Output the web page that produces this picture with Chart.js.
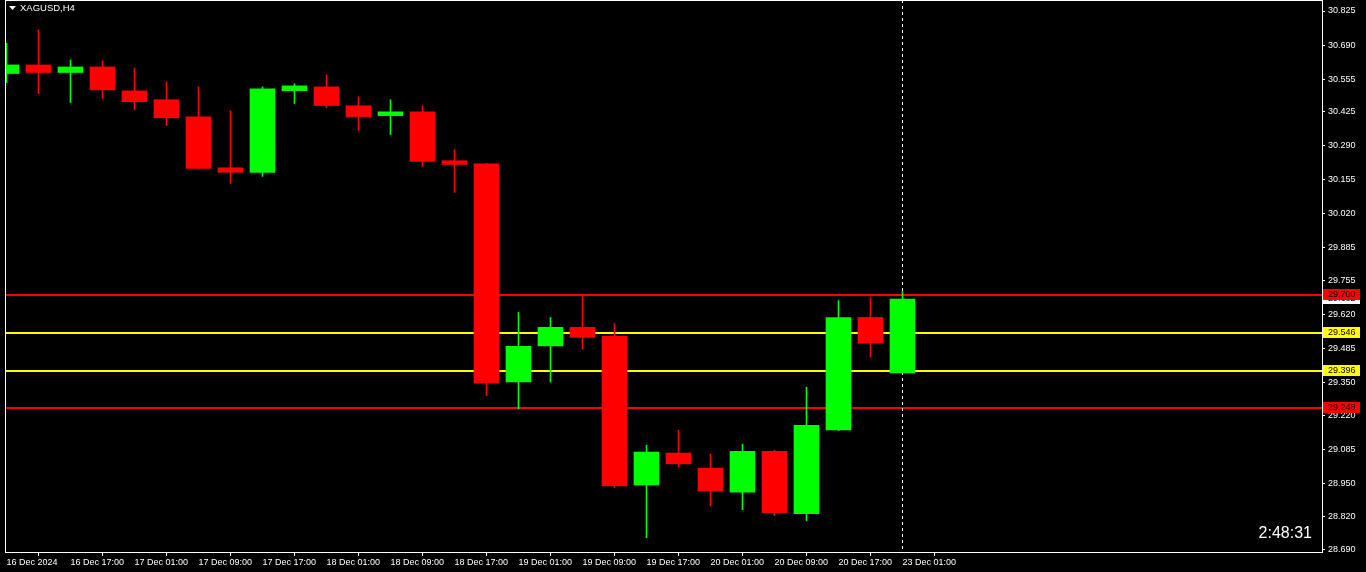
<!DOCTYPE html>
<html lang="en">
<head>
  <meta charset="UTF-8" />
  <title>XAGUSD,H4</title>
  <script src="https://cdn.jsdelivr.net/npm/chart.js"></script>
  <style>
    html, body { margin: 0; padding: 0; background: #000; overflow: hidden; }
    canvas { display: block; }
  </style>
</head>
<body>
  <canvas id="chart" width="1366" height="572"></canvas>

  <script>
    // 4H bars, oldest first
    const times = [
      "16 Dec 2024", "16 Dec 13:00", "16 Dec 17:00", "16 Dec 21:00",
      "17 Dec 01:00", "17 Dec 05:00", "17 Dec 09:00", "17 Dec 13:00",
      "17 Dec 17:00", "17 Dec 21:00", "18 Dec 01:00", "18 Dec 05:00",
      "18 Dec 09:00", "18 Dec 13:00", "18 Dec 17:00", "18 Dec 21:00",
      "19 Dec 01:00", "19 Dec 05:00", "19 Dec 09:00", "19 Dec 13:00",
      "19 Dec 17:00", "19 Dec 21:00", "20 Dec 01:00", "20 Dec 05:00",
      "20 Dec 09:00", "20 Dec 13:00", "20 Dec 17:00", "20 Dec 21:00",
      "23 Dec 01:00"
    ];
    const opens = [30.577, 30.611, 30.581, 30.603, 30.508, 30.473, 30.405, 30.203, 30.185, 30.509,
                   30.524, 30.449, 30.410, 30.425, 30.231, 30.219, 29.353, 29.496, 29.570, 29.534,
                   28.944, 29.071, 29.011, 28.916, 29.078, 28.830, 29.163, 29.609, 29.389];
    const highs = [30.697, 30.750, 30.631, 30.627, 30.599, 30.544, 30.524, 30.429, 30.524, 30.536,
                   30.572, 30.484, 30.473, 30.449, 30.275, 30.220, 29.629, 29.609, 29.700, 29.585,
                   29.102, 29.162, 29.067, 29.106, 29.082, 29.332, 29.676, 29.688, 29.712];
    const lows  = [30.541, 30.497, 30.462, 30.478, 30.433, 30.370, 30.198, 30.141, 30.169, 30.458,
                   30.442, 30.351, 30.335, 30.208, 30.105, 29.298, 29.246, 29.353, 29.483, 28.933,
                   28.735, 29.016, 28.862, 28.846, 28.822, 28.802, 29.160, 29.452, 29.389];
    const closes = [30.611, 30.581, 30.603, 30.512, 30.465, 30.401, 30.200, 30.185, 30.516, 30.528,
                    30.450, 30.406, 30.425, 30.228, 30.216, 29.349, 29.494, 29.570, 29.530, 28.941,
                    29.075, 29.028, 28.920, 29.078, 28.834, 29.181, 29.609, 29.507, 29.682];

    const priceTicks = [30.825, 30.690, 30.555, 30.425, 30.290, 30.155, 30.020, 29.885, 29.755,
                        29.620, 29.485, 29.350, 29.220, 29.085, 28.950, 28.820, 28.690];
    const timeTickIdx = [0, 2, 4, 6, 8, 10, 12, 14, 16, 18, 20, 22, 24, 26, 28];

    const levelPrices = [29.700, 29.546, 29.396, 29.248];
    const levelColors = ["#ff0000", "#ffff00", "#ffff00", "#ff0000"];
    const lastPrice = 29.682;
    const symbolTitle = "XAGUSD,H4";
    const countdown = "2:48:31";

    const BULL = "#00ff00", BEAR = "#ff0000";
    const FONT = "Liberation Sans";

    const barColors = opens.map((o, i) => closes[i] >= o ? BULL : BEAR);

    const overlay = {
      id: "overlay",
      beforeDatasetsDraw(chart) {
        const { ctx, chartArea: a, scales: { x, y } } = chart;
        ctx.save();
        // horizontal levels
        ctx.lineWidth = 2;
        levelPrices.forEach((p, i) => {
          const py = Math.round(y.getPixelForValue(p));
          ctx.strokeStyle = levelColors[i];
          ctx.beginPath();
          ctx.moveTo(a.left, py);
          ctx.lineTo(a.right, py);
          ctx.stroke();
        });
        // current bar marker
        const vx = Math.floor(x.getPixelForValue(times.length - 1)) + 0.5;
        ctx.lineWidth = 1;
        ctx.strokeStyle = "#ffffff";
        ctx.setLineDash([3, 3]);
        ctx.beginPath();
        ctx.moveTo(vx, a.top);
        ctx.lineTo(vx, a.bottom);
        ctx.stroke();
        ctx.restore();
      },
      afterDraw(chart) {
        const { ctx, chartArea: a, scales: { y } } = chart;
        ctx.save();
        // frame
        ctx.strokeStyle = "#ffffff";
        ctx.lineWidth = 1;
        ctx.strokeRect(a.left - 0.5, a.top + 0.5, a.right - a.left + 1, a.bottom - a.top);

        // price boxes on the axis
        ctx.font = "9px '" + FONT + "'";
        ctx.textBaseline = "middle";
        ctx.textAlign = "left";
        const box = (p, bg) => {
          const py = Math.round(y.getPixelForValue(p));
          ctx.fillStyle = bg;
          ctx.fillRect(a.right + 1, py - 6, 37, 11);
          ctx.fillStyle = "#000000";
          ctx.fillText(p.toFixed(3), a.right + 6, py);
        };
        box(lastPrice, "#ffffff");
        levelPrices.forEach((p, i) => box(p, levelColors[i]));

        // title
        ctx.fillStyle = "#ffffff";
        ctx.beginPath();
        ctx.moveTo(9, 6);
        ctx.lineTo(16, 6);
        ctx.lineTo(12.5, 10);
        ctx.closePath();
        ctx.fill();
        ctx.font = "9.5px '" + FONT + "'";
        ctx.fillText(symbolTitle, 20, 8.5);

        // bar countdown
        ctx.font = "16px '" + FONT + "'";
        ctx.textAlign = "right";
        ctx.textBaseline = "alphabetic";
        ctx.fillText(countdown, 1312, 538);
        ctx.restore();
      }
    };

    new Chart(document.getElementById("chart"), {
      type: "bar",
      data: {
        datasets: [
          {
            label: "body",
            data: opens.map((o, i) => ({ x: i, y: [o, closes[i]] })),
            backgroundColor: barColors,
            borderWidth: 0,
            barThickness: 25,
            grouped: false
          },
          {
            label: "wick",
            data: lows.map((l, i) => ({ x: i, y: [l, highs[i]] })),
            backgroundColor: barColors,
            borderWidth: 0,
            barThickness: 1,
            grouped: false
          }
        ]
      },
      options: {
        responsive: false,
        animation: false,
        events: [],
        layout: { padding: { left: 6, top: 0, right: 0, bottom: 0 } },
        plugins: { legend: { display: false }, tooltip: { enabled: false } },
        scales: {
          x: {
            type: "linear",
            min: -1 / 64,
            max: 41.109375,
            offset: false,
            border: { display: false },
            grid: { display: true, drawOnChartArea: false, drawTicks: true, tickLength: 4, color: "#ffffff" },
            ticks: {
              color: "#ffffff",
              font: { family: FONT, size: 9 },
              align: "start",
              padding: 1,
              maxRotation: 0,
              autoSkip: false,
              callback: v => times[Math.round(v)]
            },
            afterBuildTicks: s => { s.ticks = timeTickIdx.map(v => ({ value: v })); },
            afterFit: s => { s.height = 20; s.paddingLeft = 0; s.paddingRight = 0; }
          },
          y: {
            type: "linear",
            position: "right",
            min: 28.6783,
            max: 30.8687,
            border: { display: false },
            grid: { display: true, drawOnChartArea: false, drawTicks: true, tickLength: 3, color: "#ffffff" },
            ticks: {
              color: "#ffffff",
              font: { family: FONT, size: 9 },
              padding: 3,
              autoSkip: false,
              callback: v => v.toFixed(3)
            },
            afterBuildTicks: s => { s.ticks = priceTicks.map(v => ({ value: v })); },
            afterFit: s => { s.width = 44; s.paddingTop = 0; s.paddingBottom = 0; }
          }
        }
      },
      plugins: [overlay]
    });
  </script>
</body>
</html>
